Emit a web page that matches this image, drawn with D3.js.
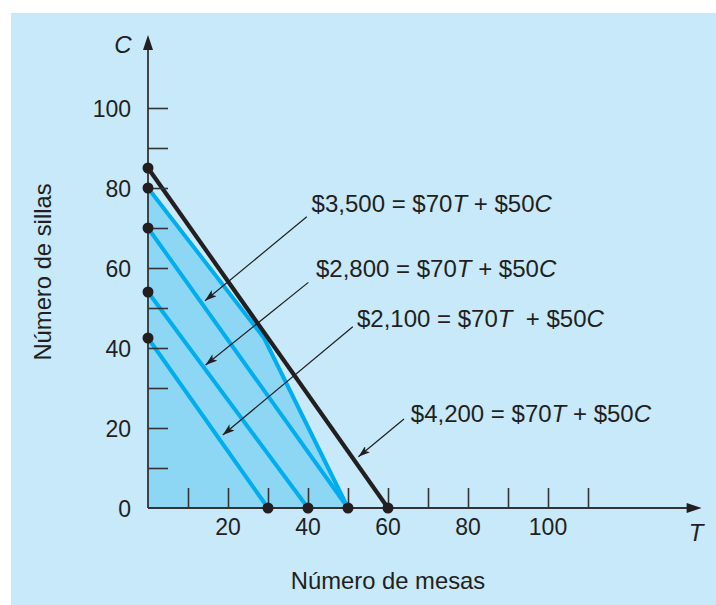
<!DOCTYPE html>
<html><head><meta charset="utf-8">
<script src="https://cdn.jsdelivr.net/npm/d3@7"></script>
<style>html,body{margin:0;padding:0;background:#fff}svg{display:block}</style>
</head><body>
<svg id="c" width="716" height="605"></svg>
<script>
// ---- data ----
const xTicks = [10,20,30,40,50,60,70,80,90,100,110];
const xTickLabels = [20,40,60,80,100];
const yTicks = [10,20,30,40,50,60,70,80,90,100];
const yTickLabels = [0,20,40,60,80,100];
// feasible region vertices (T, C)
const feasible = [[0,0],[0,80],[29,42.5],[50,0]];
// iso-profit lines: [start (T=0, C), end (T, C=0)]
const isoProfit = [
  {profit:"2,100", c0:42.5, t0:30, color:"cyan"},
  {profit:"2,800", c0:54,   t0:40, color:"cyan"},
  {profit:"3,500", c0:70,   t0:50, color:"cyan"},
  {profit:"4,200", c0:85,   t0:60, color:"black"}
];
// annotation labels: text anchor (T,C) and arrow from/to (T,C)
const labels = [
  {profit:"3,500", at:[40.9,74],    from:[39.7,72.8], to:[14.25,51.8], gap:""},
  {profit:"2,800", at:[42,57.75],   from:[40.1,56.4], to:[14.4,35.75], gap:""},
  {profit:"2,100", at:[52.25,45.25],from:[51.2,45.3], to:[18.7,18.25], gap:"\u00a0"},
  {profit:"4,200", at:[65.7,21.6],  from:[64,22.25],  to:[52.6,12.8],  gap:""}
];
const xTitle = "Número de mesas", yTitle = "Número de sillas";

// ---- drawing ----
const svg = d3.select("#c");
const FONT = "'Liberation Sans', Arial, Helvetica, sans-serif";
const CYAN = "#00aeef", FILL = "#8dd7f5", BG = "#c7e9f9", INK = "#231f20", AX = "#333";
svg.append("rect").attr("x",11).attr("y",13).attr("width",705).attr("height",592).attr("fill",BG);

const x = d3.scaleLinear().domain([0,138.4]).range([148,701.6]);
const y = d3.scaleLinear().domain([0,118.25]).range([508,35]);

const defs = svg.append("defs");
defs.append("marker").attr("id","ah").attr("viewBox","0 0 12 8").attr("refX",12).attr("refY",4)
  .attr("markerWidth",12).attr("markerHeight",8).attr("markerUnits","userSpaceOnUse").attr("orient","auto")
  .append("path").attr("d","M0,0L12,4L0,8L3,4Z").attr("fill",INK);

// feasible region
svg.append("path").datum(feasible)
  .attr("d", d3.line().x(d=>x(d[0])).y(d=>y(d[1])).curve(d3.curveLinearClosed))
  .attr("fill",FILL);
svg.append("path").datum(feasible.slice(1))
  .attr("d", d3.line().x(d=>x(d[0])).y(d=>y(d[1])))
  .attr("fill","none").attr("stroke",CYAN).attr("stroke-width",4).attr("stroke-linejoin","round");

// iso-profit lines
svg.selectAll("line.iso").data(isoProfit).join("line").attr("class","iso")
  .attr("x1",x(0)).attr("y1",d=>y(d.c0)).attr("x2",d=>x(d.t0)).attr("y2",y(0))
  .attr("stroke",d=>d.color==="cyan"?CYAN:INK).attr("stroke-width",d=>d.color==="cyan"?4:4.2);

// axes
const gx = svg.append("g").attr("transform",`translate(0,${y(0)})`)
  .call(d3.axisBottom(x).tickValues(xTicks).tickSize(-20).tickFormat(""));
const gy = svg.append("g").attr("transform",`translate(${x(0)},0)`)
  .call(d3.axisLeft(y).tickValues(yTicks).tickSize(-20).tickFormat(""));
[gx,gy].forEach(g=>{g.select(".domain").remove();g.selectAll("line").attr("stroke",AX).attr("stroke-width",1.6);});
svg.append("line").attr("x1",x(0)).attr("y1",y(0)).attr("x2",x(136)).attr("y2",y(0)).attr("stroke",AX).attr("stroke-width",1.8);
svg.append("line").attr("x1",x(0)).attr("y1",y(0)).attr("x2",x(0)).attr("y2",y(115)).attr("stroke",AX).attr("stroke-width",1.8);
// axis arrowheads
const xe = x.range()[1], ye = y.range()[1];
svg.append("path").attr("d",`M${xe},${y(0)}L${xe-15},${y(0)-5}L${xe-15},${y(0)+5}Z`).attr("fill",INK);
svg.append("path").attr("d",`M${x(0)},${ye}L${x(0)-5},${ye+15}L${x(0)+5},${ye+15}Z`).attr("fill",INK);

// tick labels
svg.selectAll("text.xl").data(xTickLabels).join("text").attr("class","xl")
  .attr("x",d=>x(d)).attr("y",y(0)+27).attr("text-anchor","middle")
  .attr("font-family",FONT).attr("font-size",23).attr("fill",INK).text(d=>d);
svg.selectAll("text.yl").data(yTickLabels).join("text").attr("class","yl")
  .attr("x",131).attr("y",d=>y(d)+9).attr("text-anchor","end")
  .attr("font-family",FONT).attr("font-size",23).attr("fill",INK).text(d=>d);

// axis letters
svg.append("text").attr("x",696).attr("y",541).attr("text-anchor","middle").attr("font-family",FONT)
  .attr("font-size",24).attr("font-style","italic").attr("fill",INK).text("T");
svg.append("text").attr("x",123).attr("y",53).attr("text-anchor","middle").attr("font-family",FONT)
  .attr("font-size",24).attr("font-style","italic").attr("fill",INK).text("C");

// titles
svg.append("text").attr("x",388).attr("y",589).attr("text-anchor","middle").attr("font-family",FONT)
  .attr("font-size",23.8).attr("fill",INK).text(xTitle);
svg.append("text").attr("transform","translate(51,272) rotate(-90)").attr("text-anchor","middle")
  .attr("font-family",FONT).attr("font-size",23.8).attr("fill",INK).text(yTitle);

// dots
const dots = [];
isoProfit.forEach(d=>{dots.push([0,d.c0]);dots.push([d.t0,0]);});
dots.push([0,feasible[1][1]]);
svg.selectAll("circle").data(dots).join("circle")
  .attr("cx",d=>x(d[0])).attr("cy",d=>y(d[1])).attr("r",5.5).attr("fill",INK);

// annotations
svg.selectAll("line.ann").data(labels).join("line").attr("class","ann")
  .attr("x1",d=>x(d.from[0])).attr("y1",d=>y(d.from[1])).attr("x2",d=>x(d.to[0])).attr("y2",d=>y(d.to[1]))
  .attr("stroke",INK).attr("stroke-width",1.2).attr("marker-end","url(#ah)");
const t = svg.selectAll("text.ann").data(labels).join("text").attr("class","ann")
  .attr("x",d=>x(d.at[0])).attr("y",d=>y(d.at[1])).attr("font-family",FONT).attr("font-size",24).attr("fill",INK)
  .style("white-space","pre");
t.each(function(d){
  const s = d3.select(this);
  s.append("tspan").text(`$${d.profit} = $70`);
  s.append("tspan").attr("font-style","italic").text("T");
  s.append("tspan").text(`${d.gap} + $50`);
  s.append("tspan").attr("font-style","italic").text("C");
});
</script>
</body></html>
